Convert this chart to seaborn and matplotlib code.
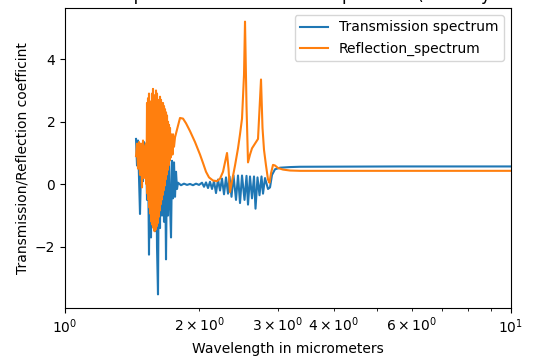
import matplotlib
matplotlib.use("Agg")
import matplotlib.pyplot as plt
import pandas as pd
import seaborn as sns

# Transmission spectrum (wavelength in micrometers, coefficient)
wl_trans = [
    1.4428, 1.4502, 1.4577, 1.4653, 1.4728, 1.4804, 1.4881, 1.4958, 1.5035, 1.5113,
    1.5191, 1.5270, 1.5349, 1.5428, 1.5508, 1.5588, 1.5669, 1.5750, 1.5832, 1.5914,
    1.5996, 1.6079, 1.6162, 1.6246, 1.6330, 1.6415, 1.6500, 1.6585, 1.6671, 1.6757,
    1.6844, 1.6931, 1.7019, 1.7107, 1.7196, 1.7285, 1.7374, 1.7464, 1.7555, 1.7646,
    1.7737, 1.7829, 1.7921,
    1.8200, 1.8485, 1.8773, 1.9066, 1.9364, 1.9666, 1.9973, 2.0285, 2.0495, 2.0708,
    2.0923, 2.1140, 2.1360, 2.1581, 2.1805, 2.2031, 2.2260, 2.2491, 2.2725, 2.2960,
    2.3199, 2.3379, 2.3622, 2.3867, 2.4177, 2.4428, 2.4682, 2.4938, 2.5262, 2.5524,
    2.5722, 2.5989, 2.6259, 2.6532, 2.6738, 2.7015, 2.7296, 2.7579, 2.7794, 2.8082,
    2.8520, 2.8816, 2.9115, 2.9570, 3.0343, 3.1951, 3.3643, 5.6378, 10.0,
]
trans = [
    1.45, 0.60, 1.40, 0.20, -0.95, 0.50, 1.20, 0.10, 1.35, 0.30,
    1.30, -0.50, 1.00, -2.25, 1.50, -1.70, 2.00, -1.20, 1.80, -1.50,
    2.20, -2.00, -3.52, 1.80, -1.40, 2.00, -1.00, 1.60, -1.20, 1.00,
    -2.40, 0.80, -1.00, 0.90, -0.60, -1.70, 0.75, -0.45, 0.70, -0.40,
    0.40, -0.15, 0.05,
    -0.03, 0.02, -0.02, 0.01, -0.03, 0.02, -0.02, 0.05, -0.08, 0.06,
    -0.12, 0.08, -0.15, 0.10, -0.28, 0.15, -0.20, 0.18, -0.32, 0.22,
    -0.30, 0.25, -0.40, 0.28, -0.50, 0.28, -0.60, 0.28, -0.50, 0.27,
    -0.65, 0.25, -0.45, 0.25, -0.78, 0.22, -0.35, 0.25, -0.30, 0.20,
    -0.15, -0.10, 0.30, 0.48, 0.53, 0.55, 0.56, 0.57, 0.57,
]

# Reflection spectrum (wavelength in micrometers, coefficient)
wl_refl = [
    1.4428, 1.4502, 1.4577, 1.4653, 1.4728, 1.4804, 1.4881, 1.4958, 1.5035, 1.5113,
    1.5191, 1.5230, 1.5270, 1.5309, 1.5349, 1.5389, 1.5428, 1.5468, 1.5508, 1.5548,
    1.5588, 1.5628, 1.5669, 1.5710, 1.5750, 1.5791, 1.5832, 1.5873, 1.5914, 1.5955,
    1.5996, 1.6037, 1.6079, 1.6121, 1.6162, 1.6204, 1.6246, 1.6288, 1.6330, 1.6372,
    1.6415, 1.6457, 1.6500, 1.6543, 1.6585, 1.6628, 1.6671, 1.6714, 1.6757, 1.6800,
    1.6844, 1.6888, 1.6931, 1.6975, 1.7019, 1.7063, 1.7107, 1.7151, 1.7196, 1.7240,
    1.7285, 1.7330, 1.7374, 1.7419, 1.7464, 1.7555, 1.7646,
    1.7829, 1.8107, 1.8390, 1.8677, 1.9066, 1.9565, 2.0076, 2.0390, 2.0708, 2.1031,
    2.1470, 2.1918, 2.2260, 2.2608, 2.2842, 2.3080, 2.3259, 2.3440, 2.3683, 2.4053,
    2.4428, 2.4682, 2.4938, 2.5197, 2.5327, 2.5524, 2.5722, 2.5989, 2.6259, 2.6669,
    2.7085, 2.7296, 2.7508, 2.7722, 2.7937, 2.8227, 2.8520, 2.8742, 2.8965, 2.9266,
    2.9570, 3.0031, 3.0817, 3.1951, 3.3643, 4.3552, 5.6378, 7.2983, 10.0,
]
refl = [
    0.90, 1.30, 0.50, 1.35, 0.30, 1.30, -0.10, 1.40, 0.20, 1.20,
    1.30, 0.00, 2.60, -0.30, 2.75, -0.50, 2.90, -0.75, 2.65, -0.95,
    2.55, -1.20, 2.90, -1.30, 3.05, -1.40, 2.85, -1.50, 2.80, -1.45,
    3.00, -1.35, 2.90, -1.25, 2.45, -1.05, 2.70, -0.85, 2.80, -0.65,
    2.70, -0.50, 2.60, -0.35, 2.60, -0.20, 2.50, -0.05, 2.40, 0.15,
    2.30, 0.30, 2.20, 0.45, 2.00, 0.60, 1.90, 0.75, 1.80, 0.85,
    1.60, 1.00, 1.50, 0.95, 1.60, 1.20, 1.50,
    1.75, 2.12, 2.10, 1.95, 1.70, 1.35, 0.95, 0.68, 0.40, 0.22,
    0.12, 0.10, 0.18, 0.40, 0.70, 1.00, 0.50, -0.25, 0.10, 0.60,
    1.15, 1.60, 2.10, 3.50, 5.20, 2.50, 0.70, 0.95, 1.15, 1.30,
    1.45, 2.40, 3.35, 1.80, 1.10, 0.60, 0.15, 0.05, 0.35, 0.62,
    0.60, 0.52, 0.47, 0.44, 0.43, 0.43, 0.43, 0.43, 0.43,
]

title_text = "Transmission spectrum and Reflection spectrum (multilayer stack)"

df_t = pd.DataFrame({"wavelength": wl_trans, "coef": trans})
df_r = pd.DataFrame({"wavelength": wl_refl, "coef": refl})

fig = plt.figure(figsize=(5.4, 3.6), dpi=100)
ax = fig.add_axes([0.1204, 0.1444, 0.8259, 0.8334])

sns.lineplot(data=df_t, x="wavelength", y="coef", ax=ax, estimator=None,
             color="#1f77b4", linewidth=1.5, label="Transmission spectrum")
sns.lineplot(data=df_r, x="wavelength", y="coef", ax=ax, estimator=None,
             color="#ff7f0e", linewidth=1.5, label="Reflection_spectrum")

ax.set_xscale("log")
ax.set_xlim(1, 10)
ax.set_xlabel("Wavelength in micrometers")
ax.set_ylabel("Transmission/Reflection coefficint")
ax.set_title(title_text)
ax.legend(loc="upper right")

fig.savefig("out.png", dpi=100)
